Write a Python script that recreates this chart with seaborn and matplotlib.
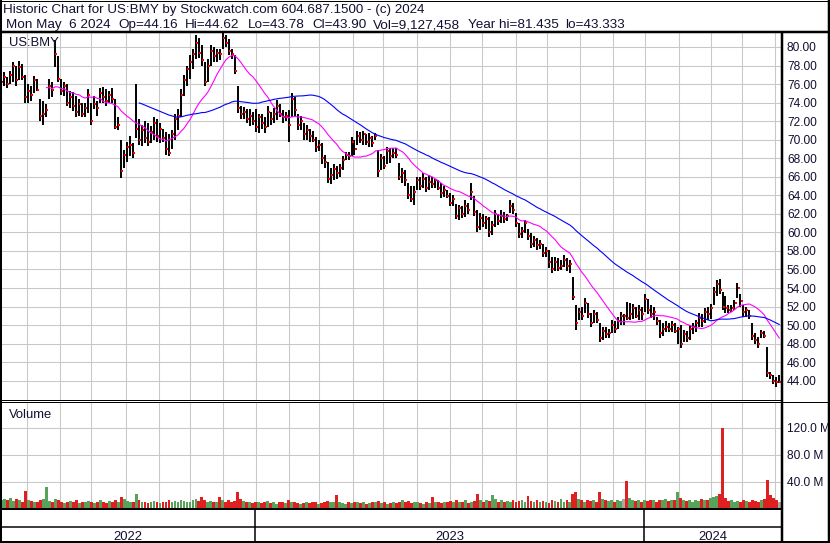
import numpy as np
import pandas as pd
import matplotlib
matplotlib.use('Agg')
import matplotlib.pyplot as plt
import seaborn as sns
from matplotlib.lines import Line2D
from matplotlib.transforms import blended_transform_factory

# values, one bar per 2 trading days (May 2022 .. May 6 2024)
highs = [
    77.0, 77.3, 76.8, 77.4, 78.4, 78.0, 78.5, 78.2, 77.0, 76.0,
    75.8, 76.9, 76.6, 74.4, 74.2, 73.8, 76.5, 76.2, 80.8, 79.0,
    76.5, 76.2, 76.0, 75.2, 75.1, 74.7, 74.4, 74.0, 74.0, 75.5,
    74.0, 74.7, 74.2, 75.6, 75.7, 75.5, 75.3, 75.6, 74.4, 72.5,
    70.0, 68.9, 69.8, 70.4, 69.6, 76.0, 72.2, 71.6, 72.0, 71.8,
    71.5, 72.5, 72.2, 71.8, 71.2, 70.8, 70.6, 71.1, 72.8, 73.3,
    75.5, 77.0, 78.0, 79.1, 79.8, 81.3, 81.0, 80.2, 78.4, 78.7,
    80.2, 80.0, 79.8, 79.8, 81.5, 81.3, 80.9, 79.8, 79.1, 75.8,
    73.6, 73.5, 73.3, 73.3, 73.0, 73.3, 72.8, 72.8, 72.4, 73.6,
    73.0, 73.4, 74.3, 73.8, 73.2, 73.0, 73.2, 75.0, 74.6, 72.8,
    72.6, 71.8, 71.6, 71.2, 70.9, 70.3, 70.0, 69.6, 68.4, 67.6,
    67.0, 67.4, 67.2, 67.4, 68.2, 68.7, 68.7, 70.3, 70.0, 70.9,
    70.8, 70.9, 70.6, 70.7, 70.4, 70.7, 68.9, 68.5, 68.2, 69.2,
    69.1, 69.1, 69.1, 67.5, 67.0, 66.7, 65.3, 65.0, 65.0, 66.0,
    66.0, 66.4, 66.0, 66.2, 66.0, 65.8, 65.6, 65.3, 65.0, 64.6,
    64.2, 64.0, 63.1, 63.0, 62.8, 63.5, 63.2, 65.3, 63.9, 62.4,
    62.1, 62.0, 61.8, 61.7, 61.2, 62.4, 62.0, 62.4, 62.2, 62.0,
    63.5, 63.2, 62.1, 61.0, 60.6, 61.3, 60.4, 59.9, 59.6, 59.4,
    59.2, 58.8, 58.4, 58.1, 57.4, 57.4, 57.2, 57.0, 57.6, 57.2,
    57.0, 55.2, 52.2, 51.8, 52.0, 52.9, 52.4, 51.3, 51.6, 51.4,
    50.2, 49.8, 49.8, 49.6, 50.5, 50.4, 50.9, 51.4, 51.2, 52.5,
    52.4, 52.3, 52.0, 52.2, 52.0, 53.4, 52.8, 52.2, 52.0, 50.9,
    50.5, 50.2, 50.4, 50.2, 50.4, 50.2, 49.8, 50.0, 49.5, 49.4,
    50.0, 50.2, 50.5, 51.3, 51.2, 51.8, 52.0, 52.3, 54.1, 54.9,
    55.0, 53.6, 53.1, 52.2, 52.2, 52.7, 54.5, 53.4, 52.2, 52.0,
    51.6, 50.2, 49.2, 48.7, 49.5, 49.4, 47.6, 44.9, 44.6, 44.4,
    44.62,
]
lows = [
    75.6, 75.8, 75.6, 76.0, 76.2, 75.8, 76.4, 76.4, 74.0, 74.0,
    74.2, 75.0, 75.2, 72.0, 71.6, 72.5, 74.4, 74.6, 77.8, 76.2,
    74.8, 74.7, 73.6, 73.4, 73.1, 72.4, 72.6, 72.4, 72.4, 72.9,
    71.6, 73.3, 72.6, 74.0, 74.0, 73.6, 74.0, 74.0, 71.2, 71.0,
    65.9, 67.0, 67.6, 68.2, 68.0, 70.2, 69.4, 69.3, 69.6, 69.3,
    69.6, 70.0, 69.8, 69.6, 69.8, 68.4, 68.2, 69.0, 70.0, 71.0,
    72.5, 74.7, 75.8, 76.5, 77.6, 78.7, 78.8, 78.0, 75.8, 76.2,
    78.0, 78.4, 78.4, 78.6, 79.8, 80.0, 79.1, 78.7, 77.1, 72.9,
    72.2, 72.2, 71.8, 71.5, 71.6, 70.8, 70.7, 71.2, 70.7, 71.4,
    71.6, 71.8, 72.1, 72.4, 71.8, 72.0, 69.8, 72.5, 72.6, 71.0,
    71.0, 70.0, 70.0, 69.8, 69.8, 68.7, 68.8, 67.4, 67.0, 65.3,
    65.2, 65.6, 65.8, 66.0, 66.7, 67.8, 67.8, 68.2, 68.4, 69.4,
    69.6, 69.4, 69.4, 69.2, 69.2, 70.0, 66.0, 66.7, 66.8, 67.4,
    67.5, 68.0, 68.0, 65.6, 65.3, 65.0, 63.6, 63.3, 63.0, 64.6,
    64.6, 64.8, 64.4, 64.6, 64.8, 64.8, 64.6, 63.7, 63.8, 63.7,
    62.8, 62.9, 61.4, 61.3, 61.6, 61.7, 62.0, 63.5, 61.8, 60.0,
    60.3, 60.6, 60.4, 59.5, 59.7, 60.6, 60.8, 61.0, 61.0, 61.2,
    62.1, 62.0, 60.6, 59.4, 59.4, 59.9, 59.2, 58.3, 58.4, 58.1,
    58.2, 57.4, 57.4, 56.2, 55.6, 55.8, 55.8, 55.9, 56.3, 55.8,
    55.6, 52.7, 49.5, 50.5, 50.6, 51.3, 50.8, 49.8, 50.2, 50.2,
    48.2, 48.4, 48.6, 48.6, 49.1, 49.2, 49.6, 50.0, 50.0, 50.5,
    50.6, 50.7, 50.8, 50.5, 50.6, 51.4, 51.2, 50.8, 50.6, 50.0,
    48.6, 48.8, 49.3, 49.3, 49.3, 49.2, 48.0, 47.5, 48.2, 48.2,
    48.4, 49.0, 49.3, 49.8, 49.8, 50.2, 50.6, 50.7, 52.2, 53.1,
    53.4, 51.6, 51.3, 51.3, 51.4, 51.6, 52.9, 52.0, 50.9, 50.9,
    50.7, 48.4, 48.0, 47.5, 48.6, 48.6, 44.4, 44.2, 43.6, 43.3,
    43.78,
]
closes = [
    76.2, 76.8, 76.0, 77.0, 78.0, 76.4, 77.8, 76.8, 74.6, 75.2,
    74.8, 76.4, 75.4, 72.6, 72.8, 73.2, 75.8, 75.4, 79.2, 76.6,
    75.2, 75.8, 74.0, 74.6, 73.6, 73.0, 73.8, 72.8, 73.4, 74.8,
    72.0, 73.8, 73.4, 75.0, 74.6, 74.2, 74.8, 74.4, 71.4, 71.6,
    66.6, 68.4, 69.2, 69.4, 68.6, 71.2, 70.0, 71.0, 70.2, 69.8,
    70.8, 71.8, 70.4, 71.2, 70.2, 69.0, 68.6, 70.6, 72.2, 72.6,
    74.8, 76.4, 77.6, 78.4, 79.2, 80.4, 79.4, 78.6, 76.2, 78.0,
    79.6, 79.0, 79.4, 79.2, 81.0, 80.4, 79.6, 79.2, 77.4, 73.4,
    72.8, 73.0, 72.2, 72.6, 72.0, 71.4, 72.4, 71.8, 71.4, 73.0,
    72.2, 72.8, 73.6, 72.8, 72.4, 72.6, 71.6, 74.4, 73.2, 71.6,
    72.0, 70.6, 71.0, 70.4, 70.0, 69.2, 69.4, 68.0, 67.6, 65.8,
    66.2, 66.8, 66.4, 67.0, 67.8, 68.4, 68.2, 69.8, 69.0, 70.4,
    70.0, 70.6, 69.8, 70.2, 69.6, 70.4, 66.6, 68.0, 67.2, 68.8,
    68.2, 68.6, 68.4, 66.0, 66.4, 65.6, 64.0, 63.6, 64.4, 65.6,
    65.0, 65.8, 64.8, 65.4, 65.2, 65.6, 64.8, 64.2, 64.6, 63.9,
    63.2, 63.6, 61.8, 62.6, 62.0, 62.8, 62.4, 64.4, 62.2, 60.6,
    61.6, 61.0, 61.4, 60.0, 60.8, 62.0, 61.2, 61.8, 61.4, 61.8,
    62.8, 62.4, 61.0, 59.8, 60.2, 61.0, 59.6, 58.8, 59.2, 58.6,
    58.8, 57.8, 58.0, 56.8, 56.0, 56.8, 56.2, 56.4, 57.0, 56.4,
    56.6, 53.0, 50.2, 51.4, 51.0, 52.4, 51.2, 50.2, 51.2, 50.6,
    48.6, 49.4, 49.0, 49.2, 50.0, 49.6, 50.4, 51.0, 51.0, 50.8,
    51.2, 51.8, 51.0, 51.6, 51.2, 52.8, 51.6, 51.2, 51.4, 50.4,
    49.2, 49.6, 49.8, 49.6, 50.0, 49.4, 49.6, 48.0, 49.0, 48.6,
    49.6, 49.8, 50.2, 50.8, 50.4, 51.4, 51.2, 51.8, 53.6, 54.4,
    53.8, 52.0, 51.8, 51.6, 51.8, 52.4, 54.0, 52.6, 51.4, 51.6,
    51.0, 48.8, 48.4, 48.0, 49.2, 48.8, 44.8, 44.6, 44.0, 43.9,
    43.90,
]
volume_m = [
    13, 14, 12, 15, 11, 14, 12, 10, 26, 13,
    11, 9, 10, 12, 14, 32, 11, 10, 14, 12,
    9, 8, 10, 11, 9, 12, 8, 10, 9, 11,
    10, 8, 9, 12, 10, 8, 11, 9, 12, 10,
    17, 14, 11, 9, 10, 21, 12, 9, 10, 8,
    9, 11, 10, 8, 9, 10, 12, 9, 11, 10,
    12, 11, 10, 9, 12, 14, 11, 17, 13, 10,
    11, 9, 10, 17, 12, 10, 13, 9, 11, 25,
    14, 11, 9, 10, 8, 9, 10, 8, 9, 11,
    8, 9, 7, 10, 9, 8, 12, 10, 9, 8,
    7, 8, 9, 8, 10, 9, 7, 8, 10, 11,
    9, 10, 20, 9, 8, 7, 9, 8, 10, 9,
    8, 9, 7, 8, 10, 9, 11, 8, 9, 7,
    8, 9, 8, 10, 12, 9, 11, 8, 9, 10,
    8, 7, 9, 8, 17, 10, 9, 8, 10, 9,
    11, 9, 12, 10, 9, 13, 8, 10, 11, 21,
    12, 9, 13, 11, 20, 14, 10, 12, 9, 11,
    10, 12, 9, 11, 13, 10, 19, 11, 10, 12,
    9, 11, 10, 8, 12, 11, 10, 14, 9, 13,
    10, 22, 25, 14, 12, 10, 13, 11, 12, 10,
    24, 14, 12, 11, 13, 10, 12, 11, 14, 41,
    16, 12, 11, 13, 10, 12, 11, 13, 12, 10,
    13, 12, 14, 11, 13, 12, 24, 15, 12, 11,
    13, 10, 12, 11, 14, 12, 13, 15, 17, 19,
    22, 120, 16, 11, 12, 10, 11, 10, 12, 11,
    10, 12, 11, 10, 12, 14, 42, 20, 15, 13,
    9.1,
]
price_ticks = list(range(44, 81, 2))
volume_ticks = [40, 80, 120]
year_labels = ['2022', '2023', '2024']
symbol = 'US:BMY'
header_1 = 'Historic Chart for US:BMY by Stockwatch.com 604.687.1500 - (c) 2024'
header_2 = ['Mon May  6 2024', 'Op=44.16', 'Hi=44.62', 'Lo=43.78', 'Cl=43.90',
            'Vol=9,127,458', 'Year hi=81.435', 'lo=43.333']

W, H = 830, 543
GRID = '#c8c8c8'
INK = '#101030'

sns.set_theme(style='white')
plt.rcParams['font.family'] = ['Liberation Sans', 'DejaVu Sans']

days = pd.bdate_range('2022-05-09', '2024-05-06')
df = pd.DataFrame({'x': np.arange(0, len(days), 2), 'high': highs, 'low': lows,
                   'close': closes, 'vol': volume_m})
df['ma_fast'] = df['close'].rolling(16).mean()
df['ma_slow'] = df['close'].rolling(47).mean()
chg = df['close'].diff().fillna(1)
df['dir'] = np.where(chg > 0, 'up', np.where(chg < 0, 'down', 'flat'))
df['tick_x'] = df['x'] + 0.7

months = np.asarray(days.year * 12 + days.month)
month_starts = np.flatnonzero(np.diff(months)) + 1
yrs = np.asarray(days.year)
year_starts = np.flatnonzero(np.diff(yrs)) + 1
XLIM = (-0.3, 521.1)


def fx(px):
    return px / W


def fy(py):
    return 1 - py / H


def px_axes(x0, y0, x1, y1):
    return fig.add_axes([fx(x0), fy(y1), fx(x1) - fx(x0), fy(y0) - fy(y1)])


def line(xs, ys, lw):
    fig.add_artist(Line2D([fx(v) for v in xs], [fy(v) for v in ys],
                          transform=fig.transFigure, color='black', lw=lw * 0.72,
                          solid_capstyle='butt'))


fig = plt.figure(figsize=(W / 100, H / 100), dpi=100, facecolor='white')

ax_p = px_axes(1, 33, 781, 400)
ax_v = px_axes(1, 402.5, 781, 508.5)
ax_b = px_axes(1, 509.2, 781, 541.7)

# price panel
for s in month_starts:
    ax_p.axvline(s, color=GRID, lw=0.75, zorder=0.5)
    ax_v.axvline(s, color=GRID, lw=0.75, zorder=0.5)
ax_p.vlines(df['x'], df['low'], df['high'], color='black', lw=1.4, zorder=2)
sns.scatterplot(data=df, x='tick_x', y='close', color='red', marker='s', s=2.2,
                linewidth=0, ax=ax_p, zorder=3, legend=False)
sns.lineplot(data=df, x='x', y='ma_fast', color='#ff00ff', lw=0.8, ax=ax_p,
             estimator=None, sort=False, zorder=4)
sns.lineplot(data=df, x='x', y='ma_slow', color='#0000ff', lw=0.8, ax=ax_p,
             estimator=None, sort=False, zorder=4)
ax_p.set_xlim(*XLIM)
ax_p.set_ylim(41.92, 81.51)
ax_p.set_yticks(price_ticks)
ax_p.set_yticklabels([f'{v:.2f}' for v in price_ticks])
ax_p.grid(axis='y', color=GRID, lw=0.75)
ax_p.set_axisbelow(True)
ax_p.text(8 / 780, 1 - 13.5 / 367, symbol, transform=ax_p.transAxes, fontsize=9.4,
          color=INK, va='baseline', ha='left')

# volume panel
sns.barplot(data=df, x='x', y='vol', hue='dir', native_scale=True, dodge=False,
            palette={'up': '#4caf50', 'down': '#ff0000', 'flat': '#a8a8a8'},
            width=0.95, linewidth=0, errorbar=None, legend=False, ax=ax_v, zorder=2)
ax_v.set_xlim(*XLIM)
ax_v.set_ylim(0, 158)
ax_v.set_yticks(volume_ticks)
ax_v.set_yticklabels([f'{v:.1f} M' for v in volume_ticks])
ax_v.grid(axis='y', color=GRID, lw=0.75)
ax_v.set_axisbelow(True)
ax_v.text(8 / 780, 1 - 15.5 / 106, 'Volume', transform=ax_v.transAxes, fontsize=9.4,
          color=INK, va='baseline', ha='left')

for ax in (ax_p, ax_v):
    ax.yaxis.tick_right()
    ax.tick_params(axis='y', length=0, pad=4.3, labelsize=8.6, labelcolor=INK)
    ax.set_xticks([])
    ax.set_xlabel('')
    ax.set_ylabel('')
    ax.set_facecolor('white')
    for sp in ax.spines.values():
        sp.set_visible(False)

# year band
ax_b.set_xlim(*XLIM)
ax_b.set_ylim(0, 1)
ax_b.axis('off')
edges = [XLIM[0]] + [s - 0.5 for s in year_starts] + [XLIM[1]]
for s in year_starts:
    ax_b.axvline(s - 0.5, color='black', lw=1.1)
tr = blended_transform_factory(ax_b.transData, fig.transFigure)
for i, lab in enumerate(year_labels):
    ax_b.text((edges[i] + edges[i + 1]) / 2, fy(540), lab, transform=tr, ha='center',
              va='baseline', fontsize=9.4, color=INK)

# frame lines
line([0, W], [0.5, 0.5], 1)
line([1, 1], [0, H], 2)
line([829, 829], [0, H], 2.5)
line([0, W], [32, 32], 2.5)
line([0, W], [541.7, 541.7], 2)
line([782, 782], [32, H], 2.5)
line([0, 782], [400.3, 400.3], 1)
line([0, W], [402, 402], 1)
line([0, 782], [509.2, 509.2], 2)
line([0, 782], [527.3, 527.3], 1.5)

# header
fig.text(fx(3), fy(12.5), header_1, fontsize=9.6, color=INK, va='baseline')
field_x = [6, 118, 185, 248, 312, 373, 468, 565]
for xp, s in zip(field_x, header_2):
    fig.text(fx(xp), fy(28), s, fontsize=9.7, color=INK, va='baseline')

fig.savefig('out.png', dpi=100, facecolor='white')
